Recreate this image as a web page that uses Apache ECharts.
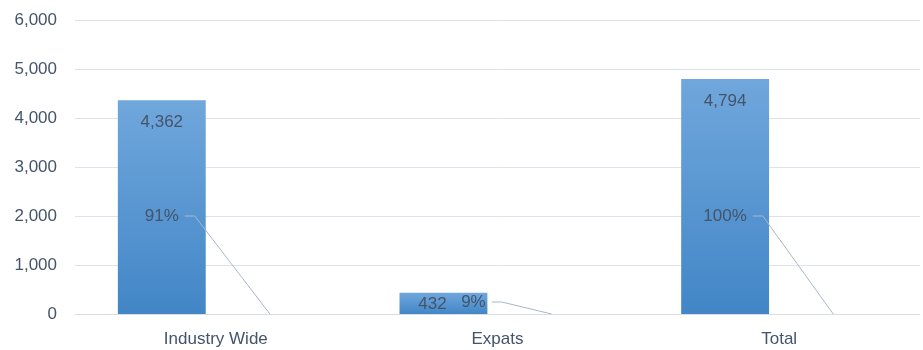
<!DOCTYPE html>
<html>
<head>
<meta charset="utf-8">
<script src="https://cdn.jsdelivr.net/npm/echarts@6/dist/echarts.min.js"></script>
<style>
  html, body { margin: 0; padding: 0; background: #fff; }
  #chart { width: 923px; height: 350px; }
</style>
</head>
<body>
<div id="chart"></div>
<script>
// data
const categories = ['Industry Wide', 'Expats', 'Total'];
const headcount = [4362, 432, 4794];
const shareLabels = ['91%', '9%', '100%'];

// where the % labels sit (value on y axis, px shift from bar centre)
const shareLabelAt = [2000, 245, 2000];
const shareLabelShift = [0, 30, 0];

const FONT = '"Liberation Sans", Arial, sans-serif';
const TEXT = '#44546a';
const BAR_OFF = 0.192; // bar centre offset as share of band

const measure = document.createElement('canvas').getContext('2d');
measure.font = '17px ' + FONT;

const chart = echarts.init(document.getElementById('chart'));

chart.setOption({
  animation: false,
  grid: { left: 75, right: 3, top: 20, bottom: 36 },
  xAxis: {
    type: 'category',
    data: categories,
    axisTick: { show: false },
    axisLine: { lineStyle: { color: '#d9dee6' } },
    axisLabel: { color: TEXT, fontSize: 17, fontFamily: FONT, margin: 17 }
  },
  yAxis: {
    type: 'value',
    min: 0,
    max: 6000,
    interval: 1000,
    axisLabel: {
      color: TEXT, fontSize: 17, fontFamily: FONT, margin: 18,
      formatter: v => echarts.format.addCommas(v)
    },
    splitLine: { lineStyle: { color: '#dde3ea' } }
  },
  series: [
    {
      name: 'Headcount',
      type: 'bar',
      barWidth: '31.2%',
      barGap: '23%',
      itemStyle: {
        color: new echarts.graphic.LinearGradient(0, 0, 0, 1, [
          { offset: 0, color: '#70a7dc' },
          { offset: 1, color: '#4286c7' }
        ])
      },
      label: {
        show: true,
        position: 'insideTop',
        distance: 14,
        color: TEXT,
        fontSize: 17,
        fontFamily: FONT,
        formatter: p => echarts.format.addCommas(p.value)
      },
      data: headcount.map((v, i) => i === 1
        ? { value: v, label: { distance: 3, offset: [-11, 0] } }
        : v)
    },
    {
      // empty slot next to each bar, like the hidden % series in the original
      name: 'Share',
      type: 'bar',
      barWidth: '31.2%',
      silent: true,
      itemStyle: { color: 'transparent' },
      data: categories.map(() => 0)
    },
    {
      name: 'ShareLabel',
      type: 'custom',
      silent: true,
      z: 10,
      data: categories.map((c, i) => [i, shareLabelAt[i]]),
      renderItem: function (params, api) {
        const i = api.value(0);
        const base = api.coord([i, 0]);
        const band = api.size([1, 0])[0];
        const barCx = base[0] - band * BAR_OFF;
        const anchorX = base[0] + band * BAR_OFF;
        const y = api.coord([i, api.value(1)])[1];
        const tx = barCx + shareLabelShift[i];
        const txt = shareLabels[i];
        const w = measure.measureText(txt).width;
        const x0 = tx + w / 2 + 6;
        return {
          type: 'group',
          children: [
            {
              type: 'polyline',
              shape: { points: [[x0, y], [x0 + 10, y], [anchorX, base[1]]] },
              style: { stroke: '#a9b7c9', lineWidth: 1, fill: null }
            },
            {
              type: 'text',
              x: tx,
              y: y,
              style: {
                text: txt,
                fill: TEXT,
                font: '17px ' + FONT,
                align: 'center',
                verticalAlign: 'middle'
              }
            }
          ]
        };
      }
    }
  ]
});

window.addEventListener('resize', () => chart.resize());
</script>
</body>
</html>
